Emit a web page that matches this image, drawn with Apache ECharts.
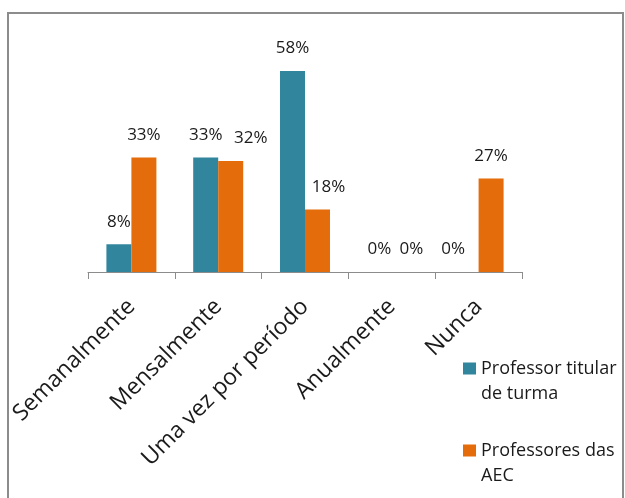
<!DOCTYPE html>
<html>
<head>
<meta charset="utf-8">
<script src="https://cdn.jsdelivr.net/npm/echarts@6/dist/echarts.min.js"></script>
<style>
  html, body { margin: 0; padding: 0; background: #fff; }
  #chart { width: 625px; height: 498px; }
</style>
</head>
<body>
<div id="chart"></div>
<script>
const categories = ['Semanalmente', 'Mensalmente', 'Uma vez por período', 'Anualmente', 'Nunca'];
const seriesNames = ['Professor titular de turma', 'Professores das AEC'];
const titularValues = [8, 33, 58, 0, 0];
const aecValues = [33, 32, 18, 0, 27];

const FONT = '"Open Sans", sans-serif';
const chart = echarts.init(document.getElementById('chart'));

function withOffsets(values, offsets) {
  return values.map((v, i) => ({ value: v, label: { offset: [offsets[i], 0] } }));
}

chart.setOption({
  animation: false,
  backgroundColor: '#ffffff',
  graphic: [{
    type: 'rect',
    shape: { x: 8, y: 13, width: 615, height: 520 },
    style: { fill: 'none', stroke: '#8c8c8c', lineWidth: 2 },
    silent: true
  }],
  grid: { left: 88, right: 103, top: 64, bottom: 226 },
  xAxis: {
    type: 'category',
    data: categories,
    axisLine: { lineStyle: { color: '#8c8c8c', width: 1 } },
    axisTick: { show: true, length: 7, lineStyle: { color: '#8c8c8c' } },
    axisLabel: { rotate: 45, margin: 31, fontSize: 23, color: '#1a1a1a', fontFamily: FONT, interval: 0 }
  },
  yAxis: {
    type: 'value', min: 0, max: 60, show: false,
    splitLine: { show: false }
  },
  legend: {
    orient: 'vertical',
    left: 458, top: 326, height: 240, width: 170,
    itemWidth: 13, itemHeight: 12,
    itemGap: 7,
    icon: 'rect',
    formatter: function (name) {
      return name === seriesNames[0] ? '\nProfessor titular\nde turma' : '\nProfessores das\nAEC';
    },
    textStyle: { fontSize: 18, lineHeight: 25, color: '#1a1a1a', fontFamily: FONT },
    data: seriesNames
  },
  series: [
    {
      name: seriesNames[0], type: 'bar',
      data: withOffsets(titularValues, [0, 0, 0, 0, -13]),
      barWidth: 25, barGap: '0%',
      itemStyle: { color: '#31859c' },
      label: { show: true, position: 'top', distance: 14, formatter: '{c}%', fontSize: 17, color: '#1a1a1a', fontFamily: FONT }
    },
    {
      name: seriesNames[1], type: 'bar',
      data: withOffsets(aecValues, [0, 20, 11, 7, 0]),
      barWidth: 25,
      itemStyle: { color: '#e46c0a' },
      label: { show: true, position: 'top', distance: 14, formatter: '{c}%', fontSize: 17, color: '#1a1a1a', fontFamily: FONT }
    }
  ]
});
</script>
</body>
</html>
